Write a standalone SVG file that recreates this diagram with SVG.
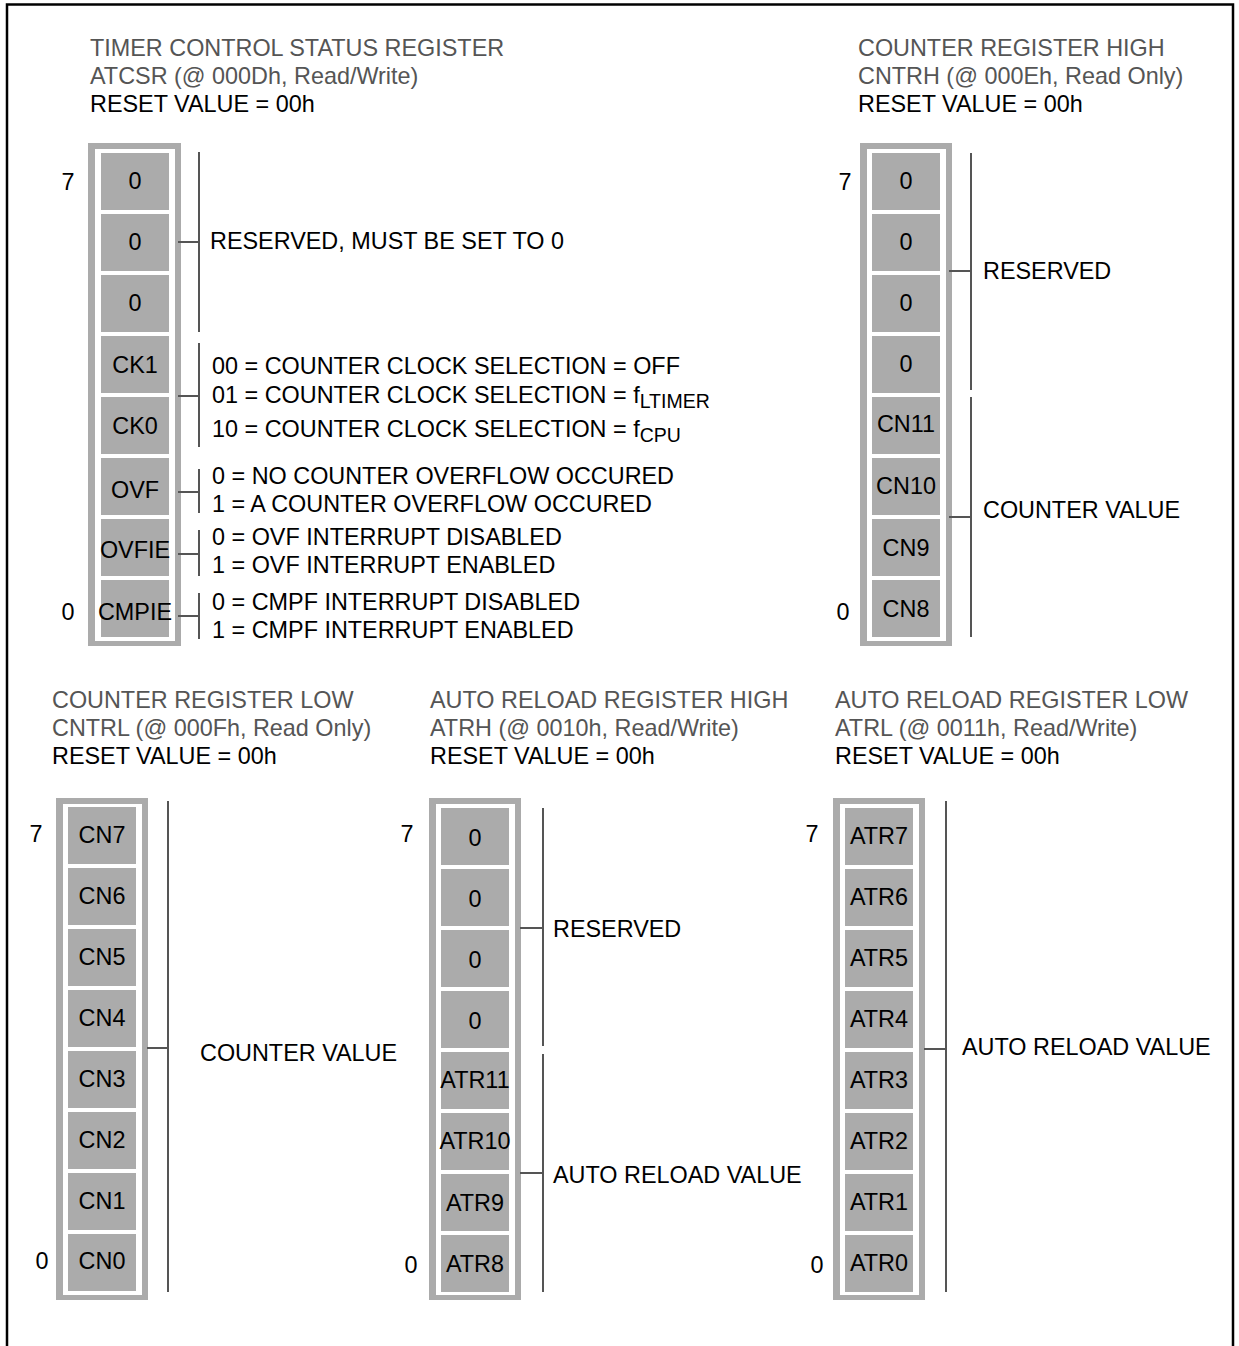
<svg xmlns="http://www.w3.org/2000/svg" width="1239" height="1346" viewBox="0 0 1239 1346">
<style>
text{font-family:"Liberation Sans",Arial,sans-serif;font-size:23.4px;fill:#000}
.h{fill:#555}
.c{text-anchor:middle}
.fr{fill:#ababab}
.wh{fill:#fff}
.cell{fill:#ababab}
.br{stroke:#555;stroke-width:2;fill:none}
.sub{font-size:19.5px}
</style>
<rect width="1239" height="1346" fill="#fff"/>
<path d="M7,1346 V4.5 H1233 V1346" fill="none" stroke="#000" stroke-width="2.5"/>

<g id="atcsr">
<text x="90" y="56" class="h">TIMER CONTROL STATUS REGISTER</text>
<text x="90" y="84" class="h">ATCSR (@ 000Dh, Read/Write)</text>
<text x="90" y="112">RESET VALUE = 00h</text>
<rect x="88" y="143" width="93" height="503" class="fr"/>
<rect x="95" y="149" width="80" height="492" class="wh"/>
<rect x="101" y="153" width="68" height="57" class="cell"/>
<rect x="101" y="214" width="68" height="57" class="cell"/>
<rect x="101" y="275" width="68" height="57" class="cell"/>
<rect x="101" y="336" width="68" height="57" class="cell"/>
<rect x="101" y="397" width="68" height="57" class="cell"/>
<rect x="101" y="458" width="68" height="57" class="cell"/>
<rect x="101" y="519" width="68" height="57" class="cell"/>
<rect x="101" y="580" width="68" height="57" class="cell"/>
<text x="135" y="189" class="c">0</text>
<text x="135" y="250" class="c">0</text>
<text x="135" y="311" class="c">0</text>
<text x="135" y="373" class="c">CK1</text>
<text x="135" y="434" class="c">CK0</text>
<text x="135" y="498" class="c">OVF</text>
<text x="135" y="558" class="c">OVFIE</text>
<text x="135" y="620" class="c">CMPIE</text>
<text x="68" y="190" class="c">7</text>
<text x="68" y="620" class="c">0</text>
<text x="210" y="249">RESERVED, MUST BE SET TO 0</text>
<text x="212" y="374">00 = COUNTER CLOCK SELECTION = OFF</text>
<text x="212" y="403">01 = COUNTER CLOCK SELECTION = f<tspan class="sub" dy="5">LTIMER</tspan></text>
<text x="212" y="437">10 = COUNTER CLOCK SELECTION = f<tspan class="sub" dy="5">CPU</tspan></text>
<text x="212" y="484">0 = NO COUNTER OVERFLOW OCCURED</text>
<text x="212" y="512">1 = A COUNTER OVERFLOW OCCURED</text>
<text x="212" y="545">0 = OVF INTERRUPT DISABLED</text>
<text x="212" y="573">1 = OVF INTERRUPT ENABLED</text>
<text x="212" y="610">0 = CMPF INTERRUPT DISABLED</text>
<text x="212" y="638">1 = CMPF INTERRUPT ENABLED</text>
</g>

<g id="cntrh">
<text x="858" y="56" class="h">COUNTER REGISTER HIGH</text>
<text x="858" y="84" class="h">CNTRH (@ 000Eh, Read Only)</text>
<text x="858" y="112">RESET VALUE = 00h</text>
<rect x="860" y="143" width="92" height="503" class="fr"/>
<rect x="867" y="149" width="79" height="492" class="wh"/>
<rect x="872" y="153" width="68" height="57" class="cell"/>
<rect x="872" y="214" width="68" height="57" class="cell"/>
<rect x="872" y="275" width="68" height="57" class="cell"/>
<rect x="872" y="336" width="68" height="57" class="cell"/>
<rect x="872" y="397" width="68" height="57" class="cell"/>
<rect x="872" y="458" width="68" height="57" class="cell"/>
<rect x="872" y="519" width="68" height="57" class="cell"/>
<rect x="872" y="580" width="68" height="57" class="cell"/>
<text x="906" y="189" class="c">0</text>
<text x="906" y="250" class="c">0</text>
<text x="906" y="311" class="c">0</text>
<text x="906" y="372" class="c">0</text>
<text x="906" y="432" class="c">CN11</text>
<text x="906" y="494" class="c">CN10</text>
<text x="906" y="556" class="c">CN9</text>
<text x="906" y="617" class="c">CN8</text>
<text x="845" y="190" class="c">7</text>
<text x="843" y="620" class="c">0</text>
<text x="983" y="279">RESERVED</text>
<text x="983" y="518">COUNTER VALUE</text>
</g>

<g id="cntrl">
<text x="52" y="708" class="h">COUNTER REGISTER LOW</text>
<text x="52" y="736" class="h">CNTRL (@ 000Fh, Read Only)</text>
<text x="52" y="764">RESET VALUE = 00h</text>
<rect x="56" y="798" width="92" height="502" class="fr"/>
<rect x="63" y="804" width="79" height="491" class="wh"/>
<rect x="68" y="807" width="68" height="57" class="cell"/>
<rect x="68" y="868" width="68" height="57" class="cell"/>
<rect x="68" y="929" width="68" height="57" class="cell"/>
<rect x="68" y="990" width="68" height="57" class="cell"/>
<rect x="68" y="1051" width="68" height="57" class="cell"/>
<rect x="68" y="1112" width="68" height="57" class="cell"/>
<rect x="68" y="1173" width="68" height="57" class="cell"/>
<rect x="68" y="1234" width="68" height="57" class="cell"/>
<text x="102" y="843" class="c">CN7</text>
<text x="102" y="904" class="c">CN6</text>
<text x="102" y="965" class="c">CN5</text>
<text x="102" y="1026" class="c">CN4</text>
<text x="102" y="1087" class="c">CN3</text>
<text x="102" y="1148" class="c">CN2</text>
<text x="102" y="1209" class="c">CN1</text>
<text x="102" y="1269" class="c">CN0</text>
<text x="36" y="842" class="c">7</text>
<text x="42" y="1269" class="c">0</text>
<text x="200" y="1061">COUNTER VALUE</text>
</g>

<g id="atrh">
<text x="430" y="708" class="h">AUTO RELOAD REGISTER HIGH</text>
<text x="430" y="736" class="h">ATRH (@ 0010h, Read/Write)</text>
<text x="430" y="764">RESET VALUE = 00h</text>
<rect x="429" y="798" width="92" height="502" class="fr"/>
<rect x="436" y="804" width="79" height="491" class="wh"/>
<rect x="441" y="808" width="68" height="57" class="cell"/>
<rect x="441" y="869" width="68" height="57" class="cell"/>
<rect x="441" y="930" width="68" height="57" class="cell"/>
<rect x="441" y="991" width="68" height="57" class="cell"/>
<rect x="441" y="1052" width="68" height="57" class="cell"/>
<rect x="441" y="1113" width="68" height="57" class="cell"/>
<rect x="441" y="1174" width="68" height="57" class="cell"/>
<rect x="441" y="1235" width="68" height="57" class="cell"/>
<text x="475" y="846" class="c">0</text>
<text x="475" y="907" class="c">0</text>
<text x="475" y="968" class="c">0</text>
<text x="475" y="1029" class="c">0</text>
<text x="475" y="1088" class="c">ATR11</text>
<text x="475" y="1149" class="c">ATR10</text>
<text x="475" y="1211" class="c">ATR9</text>
<text x="475" y="1272" class="c">ATR8</text>
<text x="407" y="842" class="c">7</text>
<text x="411" y="1273" class="c">0</text>
<text x="553" y="937">RESERVED</text>
<text x="553" y="1183">AUTO RELOAD VALUE</text>
</g>

<g id="atrl">
<text x="835" y="708" class="h">AUTO RELOAD REGISTER LOW</text>
<text x="835" y="736" class="h">ATRL (@ 0011h, Read/Write)</text>
<text x="835" y="764">RESET VALUE = 00h</text>
<rect x="833" y="798" width="92" height="502" class="fr"/>
<rect x="840" y="804" width="79" height="491" class="wh"/>
<rect x="845" y="808" width="68" height="57" class="cell"/>
<rect x="845" y="869" width="68" height="57" class="cell"/>
<rect x="845" y="930" width="68" height="57" class="cell"/>
<rect x="845" y="991" width="68" height="57" class="cell"/>
<rect x="845" y="1052" width="68" height="57" class="cell"/>
<rect x="845" y="1113" width="68" height="57" class="cell"/>
<rect x="845" y="1174" width="68" height="57" class="cell"/>
<rect x="845" y="1235" width="68" height="57" class="cell"/>
<text x="879" y="844" class="c">ATR7</text>
<text x="879" y="905" class="c">ATR6</text>
<text x="879" y="966" class="c">ATR5</text>
<text x="879" y="1027" class="c">ATR4</text>
<text x="879" y="1088" class="c">ATR3</text>
<text x="879" y="1149" class="c">ATR2</text>
<text x="879" y="1210" class="c">ATR1</text>
<text x="879" y="1271" class="c">ATR0</text>
<text x="812" y="842" class="c">7</text>
<text x="817" y="1273" class="c">0</text>
<text x="962" y="1055">AUTO RELOAD VALUE</text>
</g>

<g id="connectors" class="br">
<path d="M199,152 V332 M178,242 H199"/>
<path d="M199,343 V447 M178,396 H199"/>
<path d="M199,469 V513 M178,492 H199"/>
<path d="M199,530 V576 M178,554 H199"/>
<path d="M199,593 V639 M178,616 H199"/>
<path d="M971,153 V390 M949,271 H971"/>
<path d="M971,397 V637 M949,517 H971"/>
<path d="M168,801 V1292 M147,1048 H168"/>
<path d="M543,808 V1046 M520,928 H543"/>
<path d="M543,1054 V1292 M520,1173 H543"/>
<path d="M946,801 V1292 M924,1049 H946"/>
</g>
</svg>
